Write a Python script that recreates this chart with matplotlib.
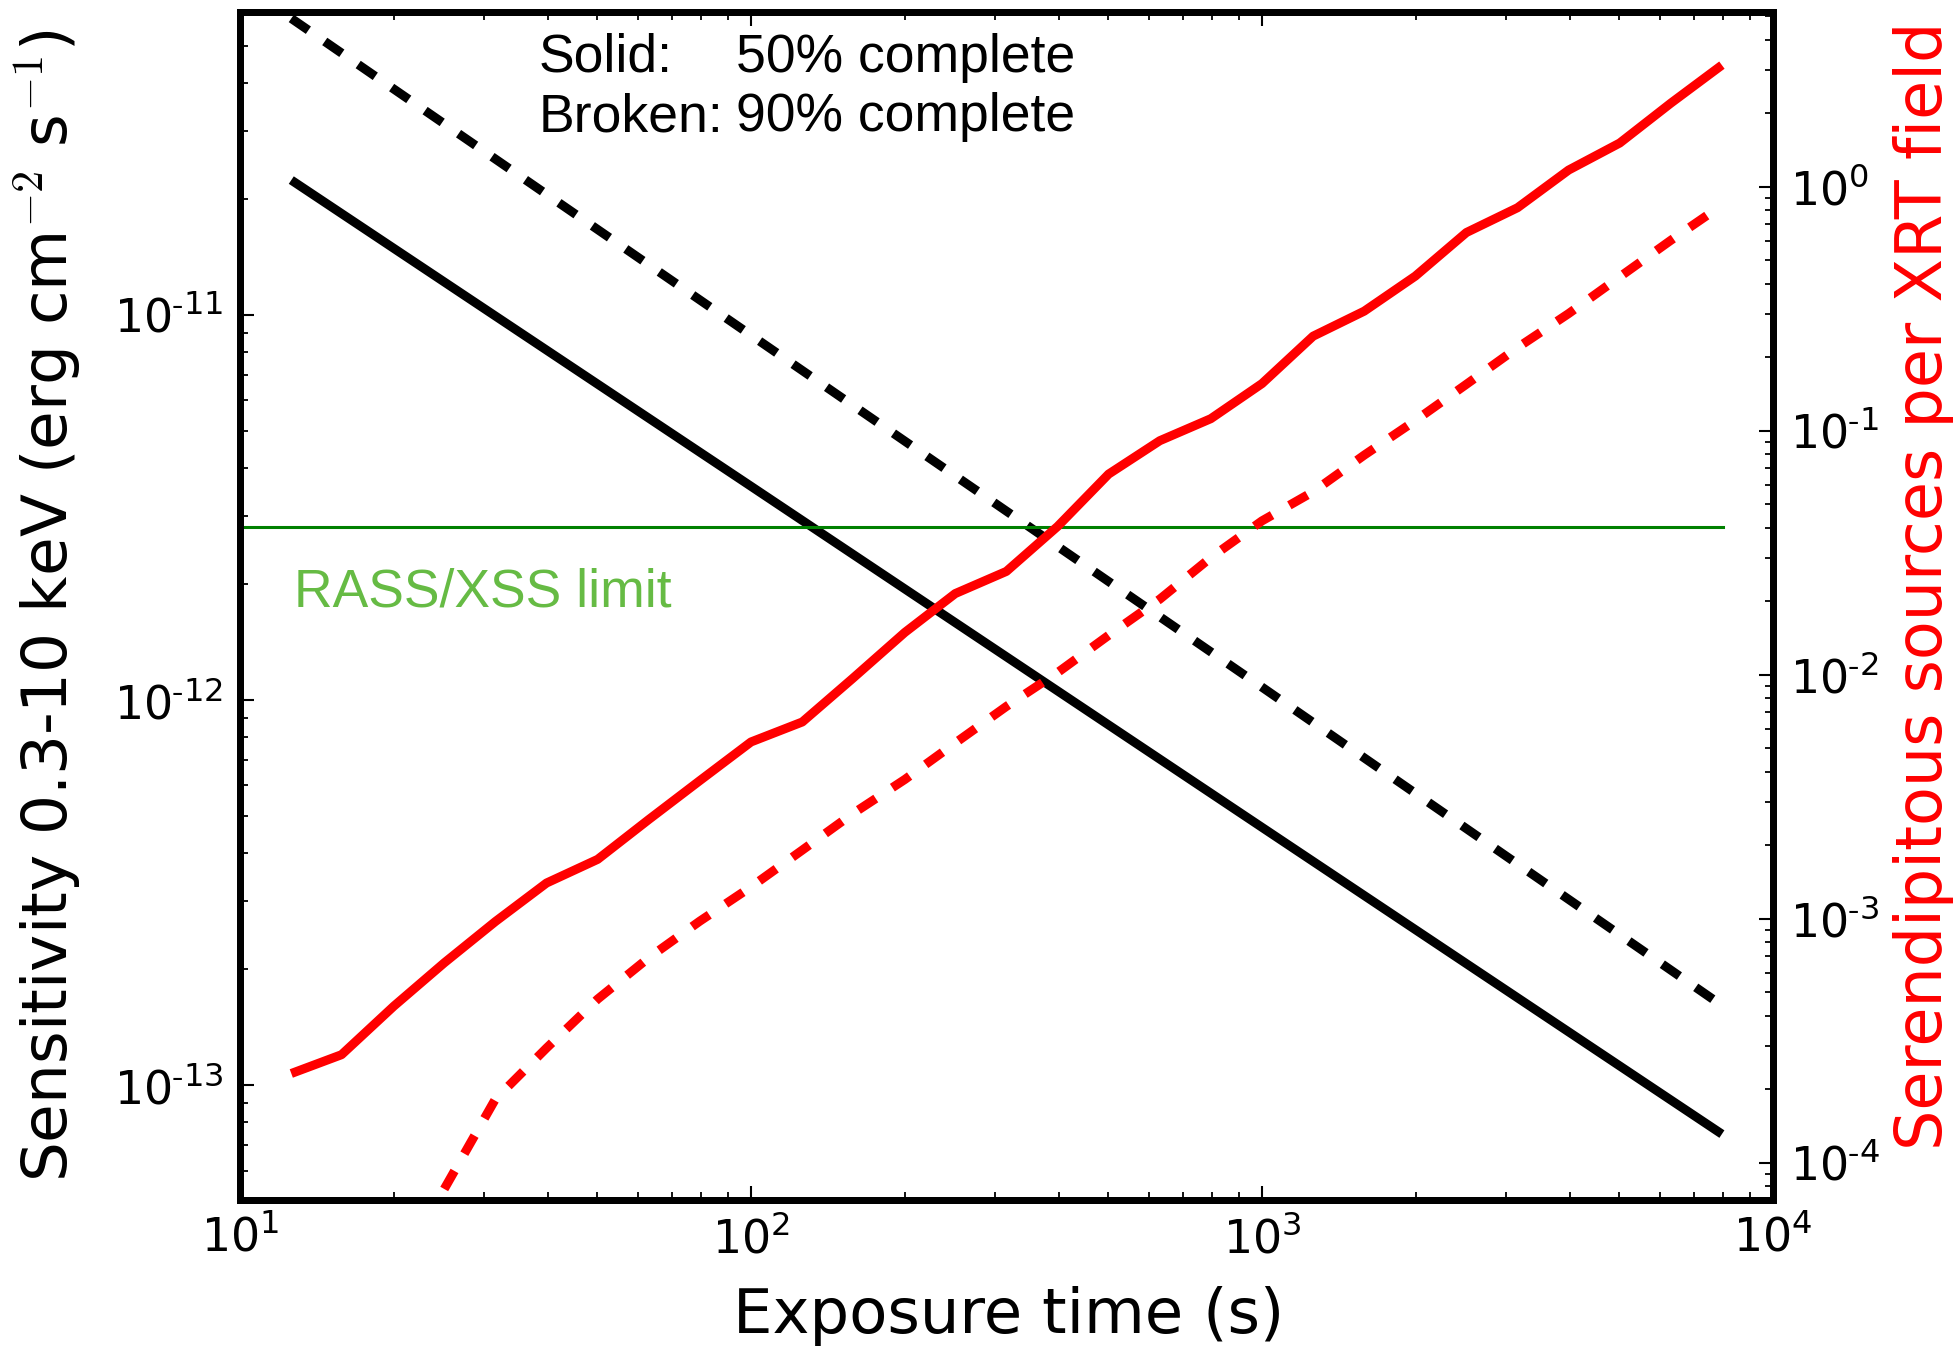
import math
import matplotlib
matplotlib.use("Agg")
import matplotlib.pyplot as plt
from matplotlib.ticker import LogLocator, FuncFormatter, NullFormatter

plt.rcParams["mathtext.fontset"] = "cm"
plt.rcParams["axes.unicode_minus"] = False

# Exposure grid (s) for the serendipitous-source curves
exposure = [12.6, 15.8, 20.0, 25.1, 31.6, 39.8, 50.1, 63.1, 79.4, 100, 126, 158,
            200, 251, 316, 398, 501, 631, 794, 1000, 1259, 1585, 1995, 2512,
            3162, 3981, 5012, 6310, 7943]

# Expected serendipitous sources per XRT field
sources_50 = [2.32e-4, 2.77e-4, 4.38e-4, 6.59e-4, 9.73e-4, 1.40e-3, 1.75e-3,
              2.55e-3, 3.68e-3, 5.30e-3, 6.40e-3, 9.64e-3, 1.49e-2, 2.15e-2,
              2.65e-2, 4.05e-2, 6.64e-2, 9.10e-2, 0.112, 0.156, 0.244, 0.309,
              0.430, 0.649, 0.820, 1.17, 1.51, 2.20, 3.15]
exposure_90 = exposure[3:]
sources_90 = [7.8e-5, 1.82e-4, 2.95e-4, 4.68e-4, 6.92e-4, 9.77e-4, 1.35e-3,
              1.91e-3, 2.69e-3, 3.72e-3, 5.25e-3, 7.41e-3, 1.02e-2, 1.45e-2,
              2.04e-2, 3.02e-2, 4.27e-2, 5.62e-2, 7.94e-2, 0.110, 0.155, 0.219,
              0.302, 0.427, 0.603, 0.84]

# Flux sensitivity (erg cm^-2 s^-1)
exposure_sens = [12.6, 100, 1000, 7943]
sens_50 = [2.24e-11, 3.59e-12, 4.67e-13, 7.46e-14]
sens_90 = [5.89e-11, 8.86e-12, 1.08e-12, 1.61e-13]

# RASS/XSS flux limit
rass_x = [10, 8000]
rass_y = [2.81e-12, 2.81e-12]

fig = plt.figure(figsize=(19.53, 13.49), dpi=100)
ax = fig.add_axes([0.12289, 0.11045, 0.78495, 0.88065])
ax2 = ax.twinx()

lw = 6.5
dash = (2.3, 2.2)

ax.plot(exposure_sens, sens_50, color="black", lw=lw, solid_capstyle="butt")
ax.plot(exposure_sens, sens_90, color="black", lw=lw, dashes=dash,
        dash_capstyle="butt")
ax.plot(rass_x, rass_y, color="green", lw=2.2)

ax2.plot(exposure, sources_50, color="red", lw=lw, solid_capstyle="butt")
ax2.plot(exposure_90, sources_90, color="red", lw=lw, dashes=dash,
         dash_capstyle="butt")

ax.set_xscale("log")
ax.set_yscale("log")
ax2.set_yscale("log")
ax.set_xlim(10, 1e4)
ax.set_ylim(5.03e-14, 6.12e-11)
ax2.set_ylim(7.03e-5, 5.2)


def pow_label(v, pos):
    e = int(round(math.log10(v)))
    if e < 0:
        return r"$\mathregular{10^{\text{-}%d}}$" % (-e)
    return r"$\mathregular{10^{%d}}$" % e


fmt = FuncFormatter(pow_label)
for a in (ax, ax2):
    for sp in a.spines.values():
        sp.set_linewidth(5)
    a.yaxis.set_major_locator(LogLocator(base=10, numticks=20))
    a.yaxis.set_minor_locator(LogLocator(base=10, subs=range(2, 10), numticks=20))
    a.yaxis.set_major_formatter(fmt)
    a.yaxis.set_minor_formatter(NullFormatter())

ax.xaxis.set_major_locator(LogLocator(base=10, numticks=20))
ax.xaxis.set_minor_locator(LogLocator(base=10, subs=range(2, 10), numticks=20))
ax.xaxis.set_major_formatter(fmt)
ax.xaxis.set_minor_formatter(NullFormatter())

ax.tick_params(axis="both", which="major", direction="in", length=10, width=1.5,
               labelsize=33, pad=12, top=True, right=False)
ax.tick_params(axis="both", which="minor", direction="in", length=5.5, width=1.3,
               top=True, right=False)
ax2.tick_params(axis="y", which="major", direction="in", length=10, width=1.5,
                labelsize=33, pad=12)
ax2.tick_params(axis="y", which="minor", direction="in", length=5.5, width=1.3)

ax.set_xlabel("Exposure time (s)", fontsize=45)
ax.xaxis.set_label_coords(0.5016, -0.072)

ax.set_ylabel(r"Sensitivity 0.3-10 keV (erg cm$^{-2}$ s$^{-1}$)", fontsize=45.3,
              va="center", ha="center")
ax.yaxis.set_label_coords(-0.126, 0.5)

ax2.set_ylabel("Serendipitous sources per XRT field", fontsize=45.8, color="red",
               rotation=90, va="center", ha="center")
ax2.yaxis.set_label_coords(1.0985, 0.517)

txt_font = dict(family=["Liberation Sans", "DejaVu Sans"], fontsize=38.5)
ax.text(0.195, 0.9495, "Solid:", transform=ax.transAxes, va="baseline", **txt_font)
ax.text(0.3235, 0.9495, "50% complete", transform=ax.transAxes, va="baseline", **txt_font)
ax.text(0.195, 0.8998, "Broken:", transform=ax.transAxes, va="baseline", **txt_font)
ax.text(0.3235, 0.8998, "90% complete", transform=ax.transAxes, va="baseline", **txt_font)
ax.text(0.0352, 0.4992, "RASS/XSS limit", transform=ax.transAxes, va="baseline",
        color="#66bb44", **txt_font)

fig.savefig("out.png", dpi=100)
